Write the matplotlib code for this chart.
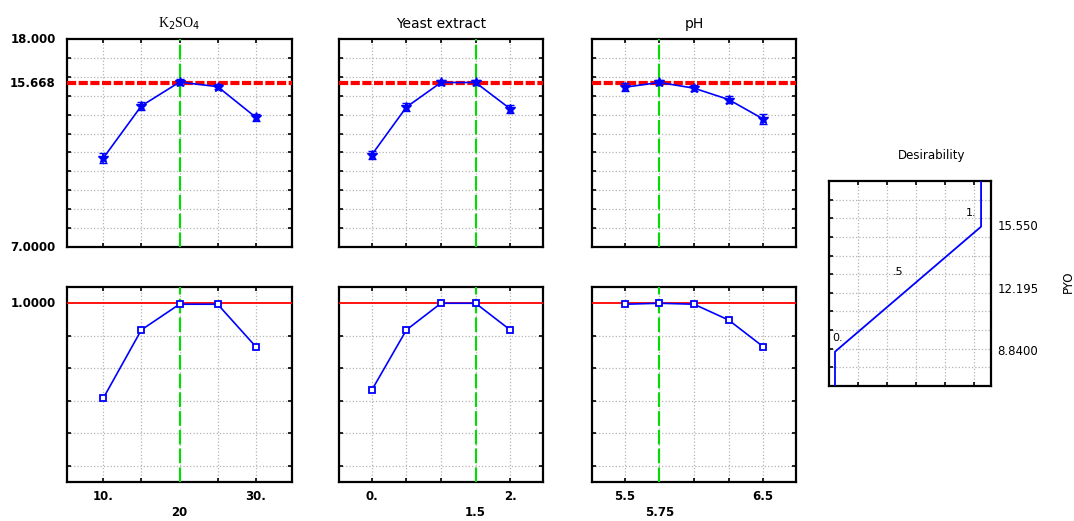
import matplotlib
matplotlib.use('Agg')
import matplotlib.pyplot as plt
import matplotlib.transforms as mtransforms

plt.rcParams['font.family'] = ['DejaVu Sans']

# factor levels for each panel
factor_names = [r'K$_2$SO$_4$', 'Yeast extract', 'pH']
factor_levels = [
    [10, 15, 20, 25, 30],
    [0.0, 0.5, 1.0, 1.5, 2.0],
    [5.5, 5.75, 6.0, 6.25, 6.5],
]
current_level = [20, 1.5, 5.75]
current_label = ['20', '1.5', '5.75']
end_labels = [['10.', '30.'], ['0.', '2.'], ['5.5', '6.5']]

# predicted PYO (top row) and its error
pyo_pred = [
    [11.70, 14.46, 15.72, 15.48, 13.86],
    [11.88, 14.40, 15.70, 15.70, 14.31],
    [15.45, 15.70, 15.40, 14.80, 13.77],
]
pyo_err = [
    [0.25, 0.20, 0.15, 0.15, 0.20],
    [0.20, 0.20, 0.15, 0.15, 0.20],
    [0.20, 0.15, 0.15, 0.20, 0.25],
]
pyo_current = 15.668

# desirability (bottom row)
desir = [
    [0.415, 0.836, 0.994, 0.994, 0.733],
    [0.466, 0.836, 1.000, 1.000, 0.836],
    [0.994, 1.000, 0.994, 0.897, 0.733],
]

# desirability function for PYO
desir_fn_d = [0.0, 0.0, 1.0, 1.0]
desir_fn_y = [7.0, 8.84, 15.55, 18.0]
desir_ticks = [15.55, 12.195, 8.84]
desir_tick_labels = ['15.550', '12.195', '8.8400']

fig = plt.figure(figsize=(10.74, 5.21), dpi=100)

W, H = 1074.0, 521.0
def px_axes(left, top, right, bottom):
    return fig.add_axes([left / W, 1 - bottom / H, (right - left) / W, (bottom - top) / H])

panel_x = [(67, 292), (339, 543), (592, 796)]
grid_kw = dict(color='#b4b4b4', linestyle=':', linewidth=0.9)
green = '#00dd00'


def style_axes(ax):
    for s in ax.spines.values():
        s.set_linewidth(1.6)
    ax.tick_params(direction='in', length=3, width=1.2, top=True, right=True,
                   labelsize=8.5)


for i in range(3):
    lx, rx = panel_x[i]
    lv = factor_levels[i]
    step = lv[1] - lv[0]
    xlim = (lv[0] - 0.95 * step, lv[-1] + 0.95 * step)

    # top row: predicted PYO
    ax = px_axes(lx, 39, rx, 247)
    style_axes(ax)
    ax.set_xlim(*xlim)
    ax.set_ylim(7, 18)
    ax.set_xticks(lv)
    ax.set_xticklabels([])
    ax.set_yticks(range(8, 18))
    ax.set_yticklabels([])
    ax.grid(True, **grid_kw)
    ax.axhline(pyo_current, color='red', linewidth=3, linestyle=(0, (2.2, 0.6)), zorder=3)
    ax.axvline(current_level[i], color=green, linewidth=1.5, linestyle=(0, (7, 2)), zorder=3)
    ax.errorbar(lv, pyo_pred[i], yerr=pyo_err[i], color='blue', linewidth=1.2,
                marker='*', markersize=7, capsize=3, elinewidth=1.2, zorder=4)
    ax.set_title(factor_names[i], fontsize=10,
                 family='Liberation Serif' if i == 0 else 'DejaVu Sans', pad=8)
    if i == 0:
        for val, lab in [(18, '18.000'), (pyo_current, '15.668'), (7, '7.0000')]:
            ax.text(-0.05, val, lab, transform=mtransforms.blended_transform_factory(ax.transAxes, ax.transData),
                    ha='right', va='center', fontsize=8.5, fontweight='bold')

    # bottom row: desirability
    ax2 = px_axes(lx, 287, rx, 482)
    style_axes(ax2)
    ax2.set_xlim(*xlim)
    ax2.set_ylim(-0.1, 1.1)
    ax2.set_xticks(lv)
    ax2.set_xticklabels([])
    ax2.set_yticks([0.0, 0.2, 0.4, 0.6, 0.8])
    ax2.set_yticklabels([])
    ax2.grid(True, **grid_kw)
    ax2.axhline(1.0, color='red', linewidth=1.3, zorder=3)
    ax2.axvline(current_level[i], color=green, linewidth=1.5, linestyle=(0, (7, 2)), zorder=3)
    ax2.plot(lv, desir[i], color='blue', linewidth=1.2, marker='s', markersize=5,
             markerfacecolor='white', markeredgecolor='blue', markeredgewidth=1.3, zorder=4)
    tr = mtransforms.blended_transform_factory(ax2.transData, ax2.transAxes)
    ax2.text(lv[0], -0.04, end_labels[i][0], transform=tr, ha='center', va='top',
             fontsize=8.5, fontweight='bold')
    ax2.text(lv[-1], -0.04, end_labels[i][1], transform=tr, ha='center', va='top',
             fontsize=8.5, fontweight='bold')
    ax2.text(current_level[i], -0.125, current_label[i], transform=tr, ha='center', va='top',
             fontsize=8.5, fontweight='bold')
    if i == 0:
        ax2.text(-0.05, 1.0, '1.0000', transform=mtransforms.blended_transform_factory(ax2.transAxes, ax2.transData),
                 ha='right', va='center', fontsize=8.5, fontweight='bold')

# desirability function panel
axd = px_axes(829, 181, 991, 386)
for s in axd.spines.values():
    s.set_linewidth(1.6)
axd.set_xlim(-0.041, 1.068)
axd.set_ylim(7, 18)
axd.set_xticks([0.155, 0.355, 0.555, 0.755, 0.955])
axd.set_xticklabels([])
axd.set_yticks(range(8, 18))
axd.set_yticklabels([])
axd.tick_params(direction='in', length=3, width=1.2, top=True)
axd.grid(True, **grid_kw)
axd.plot(desir_fn_d, desir_fn_y, color='blue', linewidth=1.3, zorder=4)
axd.text(-0.02, 9.6, '0.', fontsize=8, ha='left', va='center')
axd.text(0.47, 13.1, '.5', fontsize=8, ha='right', va='center')
axd.text(0.97, 16.3, '1.', fontsize=8, ha='right', va='center')
for val, lab in zip(desir_ticks, desir_tick_labels):
    axd.text(1.04, val, lab, transform=mtransforms.blended_transform_factory(axd.transAxes, axd.transData),
             ha='left', va='center', fontsize=8.5)
fig.text(932 / W, 1 - 155 / H, 'Desirability', ha='center', va='center', fontsize=8.5)
fig.text(1068 / W, 1 - 282 / H, 'PYO', ha='center', va='center', rotation=90, fontsize=8.5)

fig.savefig('out.png', dpi=100)
